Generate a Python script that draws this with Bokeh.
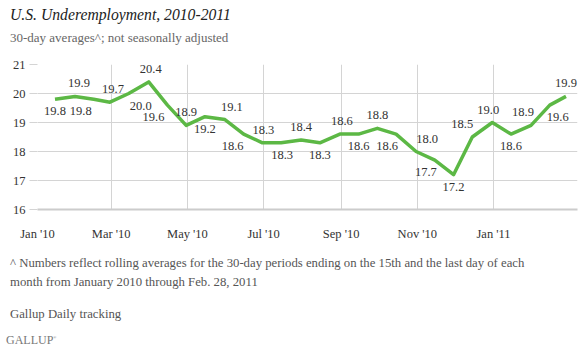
from datetime import date
from bokeh.plotting import figure
from bokeh.models import Range1d, FixedTicker, ColumnDataSource, Div
from bokeh.layouts import column
from bokeh.core.properties import value
from bokeh.embed import file_html
from bokeh.resources import INLINE

# ---- data ----
dates = ["2010-01-15", "2010-01-31", "2010-02-15", "2010-02-28", "2010-03-15", "2010-03-31",
         "2010-04-15", "2010-04-30", "2010-05-15", "2010-05-31", "2010-06-15", "2010-06-30",
         "2010-07-15", "2010-07-31", "2010-08-15", "2010-08-31", "2010-09-15", "2010-09-30",
         "2010-10-15", "2010-10-31", "2010-11-15", "2010-11-30", "2010-12-15", "2010-12-31",
         "2011-01-15", "2011-01-31", "2011-02-15", "2011-02-28"]
values = [19.8, 19.9, 19.8, 19.7, 20.0, 20.4, 19.6, 18.9, 19.2, 19.1, 18.6, 18.3, 18.3, 18.4,
          18.3, 18.6, 18.6, 18.8, 18.6, 18.0, 17.7, 17.2, 18.5, 19.0, 18.6, 18.9, 19.6, 19.9]
tick_dates = ["2010-01-01", "2010-03-01", "2010-05-01", "2010-07-01", "2010-09-01",
              "2010-11-01", "2011-01-01"]
tick_labels = ["Jan '10", "Mar '10", "May '10", "Jul '10", "Sep '10", "Nov '10", "Jan '11"]
y_ticks = [16, 17, 18, 19, 20, 21]

# label placement (styling): 1 = above, -1 = below; horizontal nudge in px
label_side = [-1, 1, -1, 1, -1, 1, -1, 1, -1, 1, -1, 1, -1, 1, -1, 1, -1, 1, -1, 1, -1, -1,
              1, 1, -1, 1, -1, 1]
label_dx = [0, 4, -13, 3, 12, 2, -14, 0, 0, 7, -11, 1, 1, 0, 0, 2, 0, 0, -9, 11, -9, 0,
            -10, -4, 0, -8, 8, 0]

origin = date(2010, 1, 1)
def day(s):
    y, m, d = map(int, s.split("-"))
    return (date(y, m, d) - origin).days

xs = [day(s) for s in dates]
tx = [day(s) for s in tick_dates]

SERIF = "Liberation Serif"
GREEN = "#5cb845"

# figure spans canvas y 50..250; frame at canvas 64..209
p = figure(width=580, height=200, output_backend="svg", toolbar_location=None,
           x_range=Range1d(0, 432.2), y_range=Range1d(16, 21),
           min_border_left=37, min_border_right=3, min_border_top=14, min_border_bottom=41,
           margin=(0, 0, 0, 0))
p.outline_line_color = None

p.xaxis.ticker = FixedTicker(ticks=tx)
p.xaxis.major_label_overrides = {t: l for t, l in zip(tx, tick_labels)}
p.yaxis.ticker = FixedTicker(ticks=y_ticks)

for ax in (p.xaxis[0], p.yaxis[0]):
    ax.major_label_text_font = SERIF
    ax.major_label_text_font_size = "12.5px"
    ax.major_label_text_color = "#333333"
    ax.minor_tick_line_color = None

p.xaxis.axis_line_color = "#cccccc"
p.xaxis.axis_line_width = 2
p.xaxis.major_tick_line_color = None
p.xaxis.major_label_standoff = 11
p.yaxis.axis_line_color = None
p.yaxis.major_tick_in = 0
p.yaxis.major_tick_out = 8
p.yaxis.major_tick_line_color = "#d4d4d4"
p.yaxis.major_label_standoff = 4

p.xgrid.grid_line_color = "#d4d4d4"
p.ygrid.grid_line_color = "#d4d4d4"

p.line(xs, values, line_color=GREEN, line_width=3.5, line_join="round")

src = ColumnDataSource(dict(
    x=xs, y=values, t=[f"{v:.1f}" for v in values],
    yo=[-13 if s > 0 else 12 for s in label_side],
    xo=label_dx))
p.text(x="x", y="y", text="t", x_offset="xo", y_offset="yo", source=src,
       text_font=value(SERIF), text_font_size="12.5px", text_color="#333333",
       text_align="center", text_baseline="middle")

head = Div(width=580, height=50, margin=(0, 0, 0, 0), text=(
    '<div style="position:relative;width:580px;height:50px;">'
    '<div style="position:absolute;left:10px;top:4px;font-family:\'Liberation Serif\';font-size:15.7px;font-style:italic;color:#222;white-space:nowrap;">'
    'U.S. Underemployment, 2010-2011</div>'
    '<div style="position:absolute;left:10px;top:29px;font-family:\'Liberation Serif\';font-size:13px;color:#666;white-space:nowrap;">'
    '30-day averages^; not seasonally adjusted</div></div>'))

foot = Div(width=580, height=104, margin=(0, 0, 0, 0), text=(
    '<div style="position:relative;width:580px;height:104px;font-family:\'Liberation Serif\';color:#555;font-size:12.75px;">'
    '<div style="position:absolute;left:10px;top:4px;white-space:nowrap;">'
    '^ Numbers reflect rolling averages for the 30-day periods ending on the 15th and the last day of each</div>'
    '<div style="position:absolute;left:10px;top:23px;white-space:nowrap;">'
    'month from January 2010 through Feb. 28, 2011</div>'
    '<div style="position:absolute;left:10px;top:55px;white-space:nowrap;">Gallup Daily tracking</div>'
    '<div style="position:absolute;left:6px;top:82px;white-space:nowrap;'
    'font-size:12px;color:#777;">GALLUP<sup style="font-size:4px;">®</sup></div></div>'))

layout = column(head, p, foot, margin=(0, 0, 0, 0), spacing=0)
open("out.html", "w").write(file_html(layout, INLINE))
